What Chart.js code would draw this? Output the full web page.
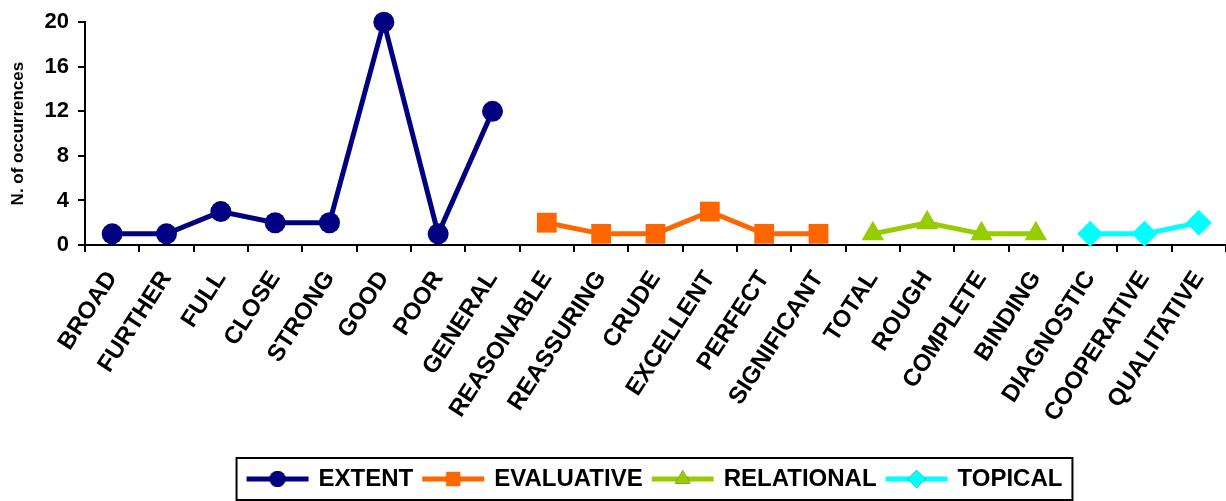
<!DOCTYPE html>
<html>
<head>
<meta charset="utf-8">
<script src="https://cdn.jsdelivr.net/npm/chart.js@4/dist/chart.umd.min.js"></script>
<style>
  html, body { margin: 0; padding: 0; background: #fff; }
  #wrap { width: 1226px; height: 501px; }
</style>
</head>
<body>
<div id="wrap"><canvas id="chart"></canvas></div>
<script>
const categories = ['BROAD', 'FURTHER', 'FULL', 'CLOSE', 'STRONG', 'GOOD', 'POOR', 'GENERAL',
  'REASONABLE', 'REASSURING', 'CRUDE', 'EXCELLENT', 'PERFECT', 'SIGNIFICANT',
  'TOTAL', 'ROUGH', 'COMPLETE', 'BINDING',
  'DIAGNOSTIC', 'COOPERATIVE', 'QUALITATIVE'];

// each group only covers its own words, the rest stays empty
const extent     = [1, 1, 3, 2, 2, 20, 1, 12];
const evaluative = [2, 1, 1, 3, 1, 1];
const relational = [1, 2, 1, 1];
const topical    = [1, 1, 2];

const yTicks = [0, 4, 8, 12, 16, 20];

function place(values, start) {
  const out = categories.map(() => null);
  values.forEach((v, i) => { out[start + i] = v; });
  return out;
}

// small line+marker picture for the legend
function legendIcon(color, style, r) {
  const c = document.createElement('canvas');
  c.width = 66; c.height = 26;
  const g = c.getContext('2d');
  g.strokeStyle = color;
  g.lineWidth = 5;
  g.beginPath(); g.moveTo(2, 13); g.lineTo(64, 13); g.stroke();
  Chart.helpers.drawPoint(g, { pointStyle: style, radius: r, rotation: 0, borderWidth: 0 }, 33, 13);
  g.fillStyle = color;
  g.fill();
  return c;
}

const series = [
  { label: 'EXTENT',     values: extent,     start: 0,  color: '#000080', style: 'circle',   r: 10.5, lr: 8 },
  { label: 'EVALUATIVE', values: evaluative, start: 8,  color: '#FF6600', style: 'rect',     r: 14, lr: 10 },
  { label: 'RELATIONAL', values: relational, start: 14, color: '#99CC00', style: 'triangle', r: 13, lr: 9 },
  { label: 'TOPICAL',    values: topical,    start: 18, color: '#00FFFF', style: 'rectRot',  r: 13, lr: 9 }
];

const legendBox = {
  id: 'legendBox',
  afterDraw(chart) {
    const boxes = chart.legend && chart.legend.legendHitBoxes;
    if (!boxes || !boxes.length) return;
    const left = Math.min(...boxes.map(b => b.left)) - 12;
    const right = Math.max(...boxes.map(b => b.left + b.width)) + 10;
    const ctx = chart.ctx;
    ctx.save();
    ctx.strokeStyle = '#000';
    ctx.lineWidth = 2;
    ctx.strokeRect(left, 458, right - left, 42);
    ctx.restore();
  }
};

new Chart(document.getElementById('chart'), {
  type: 'line',
  data: {
    labels: categories,
    datasets: series.map(s => ({
      label: s.label,
      data: place(s.values, s.start),
      borderColor: s.color,
      backgroundColor: s.color,
      borderWidth: 5,
      pointStyle: s.style,
      pointRadius: s.r,
      pointHoverRadius: s.r,
      pointBorderWidth: 0,
      tension: 0,
      spanGaps: false,
      clip: false,
      legendIcon: legendIcon(s.color, s.style, s.lr)
    }))
  },
  options: {
    responsive: true,
    maintainAspectRatio: false,
    animation: false,
    layout: { autoPadding: false, padding: { top: 10, right: 0, left: 0, bottom: 0 } },
    plugins: {
      tooltip: { enabled: false },
      legend: {
        position: 'bottom',
        fullSize: false,
        labels: {
          color: '#000',
          font: { family: 'Liberation Sans', size: 24, weight: 'bold' },
          usePointStyle: true,
          pointStyleWidth: 58,
          padding: 11,
          generateLabels(chart) {
            return chart.data.datasets.map((ds, i) => ({
              text: ds.label,
              pointStyle: ds.legendIcon,
              fillStyle: ds.borderColor,
              strokeStyle: ds.borderColor,
              lineWidth: 0,
              fontColor: '#000',
              hidden: false,
              datasetIndex: i
            }));
          }
        }
      }
    },
    scales: {
      x: {
        offset: true,
        afterFit(scale) {
          scale.height = 211;
          scale.paddingLeft = 0;
          scale.paddingRight = 0;
        },
        grid: { offset: true, drawOnChartArea: false, drawTicks: true, tickLength: 7, color: '#000', lineWidth: 2 },
        border: { display: true, color: '#000', width: 2 },
        ticks: {
          autoSkip: false,
          minRotation: 57,
          maxRotation: 57,
          padding: 14,
          color: '#000',
          font: { family: 'Liberation Sans', size: 24, weight: 'bold' }
        }
      },
      y: {
        min: 0,
        max: 20,
        afterFit(scale) { scale.width = 85; },
        afterBuildTicks(scale) { scale.ticks = yTicks.map(v => ({ value: v })); },
        grid: { drawOnChartArea: false, drawTicks: true, tickLength: 7, color: '#000', lineWidth: 2 },
        border: { display: true, color: '#000', width: 2 },
        ticks: {
          padding: 9,
          color: '#000',
          font: { family: 'Liberation Sans', size: 22, weight: 'bold' }
        },
        title: {
          display: true,
          text: 'N. of occurrences',
          color: '#000',
          padding: { top: 8, bottom: 0 },
          font: { family: 'Liberation Sans', size: 17, weight: 'bold' }
        }
      }
    }
  },
  plugins: [legendBox]
});
</script>
</body>
</html>
